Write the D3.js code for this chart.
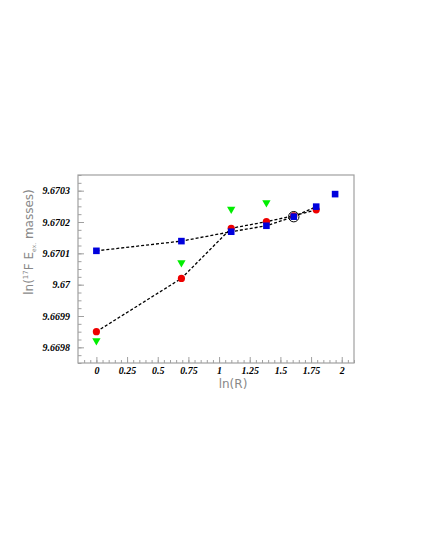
<!DOCTYPE html>
<html>
<head>
<meta charset="utf-8">
<script src="https://cdn.jsdelivr.net/npm/d3@7"></script>
<style>
  body { margin: 0; background: #fff; }
</style>
</head>
<body>
<svg id="chart" width="425" height="550"></svg>
<script>
// ln(R) values
const lnR = [0, 0.693, 1.099, 1.386, 1.609, 1.792, 1.946]
const blueVals = [9.670108, 9.670139, 9.670169, 9.670188, 9.670217, 9.670249, 9.670289]
const redVals = [9.66985, 9.67002, 9.67018, 9.670201, 9.67022, 9.670239]
const greenVals = [9.669821, 9.67007, 9.670241, 9.670262]
const xTicks = [0, 0.25, 0.5, 0.75, 1, 1.25, 1.5, 1.75, 2]
const xTickLabels = ["0", "0.25", "0.5", "0.75", "1", "1.25", "1.5", "1.75", "2"]
const yTicks = [9.6698, 9.6699, 9.67, 9.6701, 9.6702, 9.6703]
const yTickLabels = ["9.6698", "9.6699", "9.67", "9.6701", "9.6702", "9.6703"]
const circledIndex = 4

const svg = d3.select("#chart")
const frameL = 78, frameR = 354, frameT = 175, frameB = 363

const x = d3.scaleLinear().domain([-0.15, 2.1]).range([frameL, frameR])
const y = d3.scaleLinear().domain([9.66975, 9.67035]).range([frameB, frameT])

const frameColor = "#a0a0a0"

const styleLabels = g => g.selectAll("text")
    .style("font-family", "'Liberation Serif', 'DejaVu Serif', serif")
    .style("font-weight", "bold")
    .style("font-style", "italic")
    .style("font-size", "10px")
    .attr("fill", "#000")

// minor ticks
const xMinor = d3.range(-3, 43).map(i => i * 0.05).filter(v => v >= -0.15 && v <= 2.1)
const yMinor = d3.range(0, 25).map(i => 9.66975 + i * 0.000025)

svg.append("g")
    .attr("transform", `translate(0,${frameB})`)
    .call(d3.axisBottom(x).tickValues(xMinor).tickSize(-3).tickFormat(""))
    .call(g => g.select(".domain").remove())
    .call(g => g.selectAll("line").attr("stroke", frameColor))

svg.append("g")
    .attr("transform", `translate(${frameL},0)`)
    .call(d3.axisLeft(y).tickValues(yMinor).tickSize(-3.5).tickFormat(""))
    .call(g => g.select(".domain").remove())
    .call(g => g.selectAll("line").attr("stroke", frameColor))

// major ticks
svg.append("g")
    .attr("transform", `translate(0,${frameB})`)
    .call(d3.axisBottom(x).tickValues(xTicks).tickSize(-6).tickPadding(4)
        .tickFormat((d, i) => xTickLabels[i]))
    .call(g => g.select(".domain").remove())
    .call(g => g.selectAll("line").attr("stroke", frameColor))
    .call(styleLabels)

svg.append("g")
    .attr("transform", `translate(${frameL},0)`)
    .call(d3.axisLeft(y).tickValues(yTicks).tickSize(-6).tickPadding(8)
        .tickFormat((d, i) => yTickLabels[i]))
    .call(g => g.select(".domain").remove())
    .call(g => g.selectAll("line").attr("stroke", frameColor))
    .call(styleLabels)

// frame
svg.append("rect")
    .attr("x", frameL).attr("y", frameT)
    .attr("width", frameR - frameL).attr("height", frameB - frameT)
    .attr("fill", "none").attr("stroke", frameColor).attr("stroke-width", 1.2)

// dashed lines
const line = d3.line().x(d => x(d[0])).y(d => y(d[1]))
const blueLine = blueVals.slice(0, 6).map((v, i) => [lnR[i], v])
const redLine = redVals.map((v, i) => [lnR[i], v])

svg.selectAll(".dash")
    .data([blueLine, redLine])
    .enter()
    .append("path")
    .attr("d", line)
    .attr("fill", "none")
    .attr("stroke", "#000")
    .attr("stroke-width", 1.3)
    .attr("stroke-dasharray", "3,2")

// green triangles
svg.selectAll(".green")
    .data(greenVals)
    .enter()
    .append("path")
    .attr("d", d3.symbol().type(d3.symbolTriangle).size(30))
    .attr("transform", (d, i) => `translate(${x(lnR[i])},${y(d)}) rotate(180)`)
    .attr("fill", "#00ee00")

// red circles
svg.selectAll(".red")
    .data(redVals)
    .enter()
    .append("circle")
    .attr("cx", (d, i) => x(lnR[i]))
    .attr("cy", d => y(d))
    .attr("r", 3.6)
    .attr("fill", "#ee0000")

// blue squares
svg.selectAll(".blue")
    .data(blueVals)
    .enter()
    .append("rect")
    .attr("x", (d, i) => x(lnR[i]) - 3.3)
    .attr("y", d => y(d) - 3.3)
    .attr("width", 6.6).attr("height", 6.6)
    .attr("fill", "#0000dd")

// open circle highlighting
svg.append("circle")
    .attr("cx", x(lnR[circledIndex]))
    .attr("cy", y(blueVals[circledIndex]))
    .attr("r", 5.2)
    .attr("fill", "none")
    .attr("stroke", "#000")
    .attr("stroke-width", 1)

// axis titles
svg.append("text")
    .attr("x", 233).attr("y", 388)
    .attr("text-anchor", "middle")
    .attr("font-family", "'DejaVu Sans', sans-serif")
    .attr("font-size", 12)
    .attr("fill", "#888")
    .text("ln(R)")

const yt = svg.append("text")
    .attr("transform", "translate(33,242) rotate(-90)")
    .attr("text-anchor", "middle")
    .attr("font-family", "'DejaVu Sans', sans-serif")
    .attr("font-size", 12)
    .attr("fill", "#888")
yt.append("tspan").text("ln(")
yt.append("tspan").attr("font-size", 7).attr("dy", -5).text("17")
yt.append("tspan").attr("dy", 5).text("F E")
yt.append("tspan").attr("font-size", 6).attr("dy", 3).text("ex.")
yt.append("tspan").attr("dy", -3).text(" masses)")
</script>
</body>
</html>
